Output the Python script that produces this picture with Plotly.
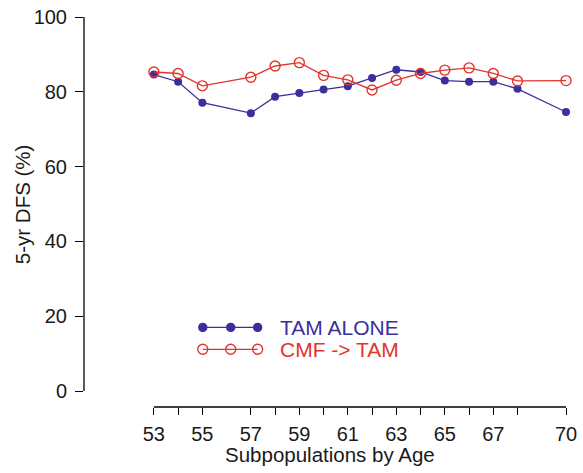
import plotly.graph_objects as go

ages = [53, 54, 55, 57, 58, 59, 60, 61, 62, 63, 64, 65, 66, 67, 68, 70]
tam_alone = [84.6, 82.7, 77.1, 74.3, 78.7, 79.7, 80.6, 81.5, 83.7, 85.9, 85.3, 83.0, 82.7, 82.7, 80.8, 74.6]
cmf_tam = [85.3, 84.9, 81.6, 83.9, 86.9, 87.8, 84.4, 83.2, 80.5, 83.1, 84.9, 85.8, 86.4, 84.9, 82.9, 83.0]
x_tick_labels = ["53", "", "55", "57", "", "59", "", "61", "", "63", "", "65", "", "67", "", "70"]
y_ticks = [0, 20, 40, 60, 80, 100]
series_names = ["TAM ALONE", "CMF -> TAM"]

BLUE = "#3b2f9c"
RED = "#e3342b"
TXT = "#1a1a1a"
FONT = "Liberation Sans, Arial, Helvetica, sans-serif"

W, H = 583, 473
L, R, T, B = 84, 6, 15, 66
PW, PH = W - L - R, H - T - B
PX_PER_UNIT = (567 - 154) / (70 - 53)
x_min = 53 - (154 - L) / PX_PER_UNIT
x_max = 70 + (W - R - 567) / PX_PER_UNIT
y_min = -(407 - 391) / ((391 - 15) / 100)


def px(xp):
    return (xp - L) / PW


def py(yp):
    return (H - B - yp) / PH


fig = go.Figure()
fig.add_trace(go.Scatter(
    x=ages, y=tam_alone, mode="lines+markers", name=series_names[0],
    line=dict(color=BLUE, width=1.3),
    marker=dict(color=BLUE, size=8, symbol="circle"),
    cliponaxis=False, showlegend=False))
fig.add_trace(go.Scatter(
    x=ages, y=cmf_tam, mode="lines+markers", name=series_names[1],
    line=dict(color=RED, width=1.3),
    marker=dict(color=RED, size=10, symbol="circle-open", line=dict(width=1.4)),
    cliponaxis=False, showlegend=False))

shapes = []
shapes.append(dict(type="line", xref="paper", yref="y", x0=0, x1=0, y0=0, y1=100,
                   line=dict(color="black", width=1.3)))
shapes.append(dict(type="line", xref="x", yref="paper", x0=ages[0], x1=ages[-1], y0=0, y1=0,
                   line=dict(color="black", width=1.3)))

annotations = []
leg_rows = [(327, BLUE, True, series_names[0]), (349, RED, False, series_names[1])]
for yp, col, filled, name in leg_rows:
    shapes.append(dict(type="line", xref="paper", yref="paper", x0=px(203), x1=px(258),
                       y0=py(yp), y1=py(yp), line=dict(color=col, width=1.3)))
    for xp in (203, 231, 258):
        d = 8 if filled else 10
        shapes.append(dict(type="circle", xref="paper", yref="paper",
                           xsizemode="pixel", ysizemode="pixel",
                           xanchor=px(xp), yanchor=py(yp),
                           x0=-d / 2, x1=d / 2, y0=-d / 2, y1=d / 2,
                           fillcolor=col if filled else "rgba(0,0,0,0)",
                           line=dict(color=col, width=1.4)))
    annotations.append(dict(xref="paper", yref="paper", x=px(278), y=py(yp),
                            xanchor="left", yanchor="middle", showarrow=False,
                            text=name, font=dict(family=FONT, size=21, color=col)))

annotations.append(dict(xref="paper", yref="paper", x=px(22), y=py(203), textangle=-90,
                        xanchor="center", yanchor="middle", showarrow=False,
                        text="5-yr DFS (%)", font=dict(family=FONT, size=20.5, color=TXT)))
annotations.append(dict(xref="paper", yref="paper", x=px(330), y=py(455),
                        xanchor="center", yanchor="middle", showarrow=False,
                        text="Subpopulations by Age", font=dict(family=FONT, size=20.5, color=TXT)))

fig.update_layout(
    width=W, height=H,
    margin=dict(l=L, r=R, t=T, b=B, pad=0),
    paper_bgcolor="white", plot_bgcolor="white",
    shapes=shapes, annotations=annotations,
    xaxis=dict(range=[x_min, x_max], tickvals=ages, ticktext=x_tick_labels,
               ticks="outside", ticklen=7, tickwidth=1.3, tickcolor="black",
               showline=False, showgrid=False, zeroline=False, ticklabelstandoff=2,
               tickfont=dict(family=FONT, size=20, color=TXT)),
    yaxis=dict(range=[y_min, 100], tickvals=y_ticks,
               ticks="outside", ticklen=8, tickwidth=1.3, tickcolor="black",
               showline=False, showgrid=False, zeroline=False, ticklabelstandoff=4,
               tickfont=dict(family=FONT, size=20, color=TXT)),
)

fig.write_html("out.html")
